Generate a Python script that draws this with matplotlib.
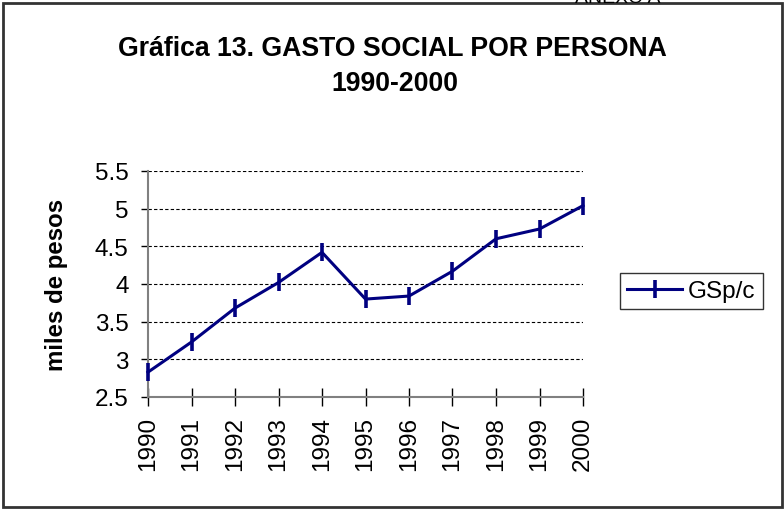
import matplotlib
matplotlib.use("Agg")
import matplotlib.pyplot as plt
from matplotlib.patches import Rectangle

years = ["1990", "1991", "1992", "1993", "1994", "1995", "1996", "1997", "1998", "1999", "2000"]
gsp = [2.83, 3.23, 3.68, 4.02, 4.42, 3.80, 3.84, 4.17, 4.60, 4.73, 5.04]
yticks = [2.5, 3, 3.5, 4, 4.5, 5, 5.5]
ytick_labels = ["2.5", "3", "3.5", "4", "4.5", "5", "5.5"]

plt.rcParams['font.family'] = ['Liberation Sans', 'DejaVu Sans']

fig = plt.figure(figsize=(7.84, 5.10), dpi=100)
ax = fig.add_axes([148/784, 1-398/510, (583-148)/784, (398-172)/510])

x = list(range(len(years)))
ax.plot(x, gsp, color='#000080', linewidth=2.2, marker='|', markersize=13,
        markeredgewidth=2.6, label='GSp/c', clip_on=False, zorder=5)

ax.set_xlim(0, len(years) - 1)
ax.set_ylim(2.5, 5.5)
ax.set_yticks(yticks)
ax.set_yticklabels(ytick_labels, fontsize=17.5)
ax.set_xticks(x)
ax.set_xticklabels(years, rotation=90, fontsize=17.5)
ax.tick_params(axis='x', direction='inout', length=13, width=1, color='black', pad=7)
ax.tick_params(axis='y', direction='out', length=5, width=1, color='black', pad=9)

ax.grid(axis='y', color='black', linestyle=(0, (3, 2)), linewidth=0.8)
ax.set_axisbelow(True)
for s in ['top', 'right']:
    ax.spines[s].set_visible(False)
for s in ['left', 'bottom']:
    ax.spines[s].set_color('#808080')
    ax.spines[s].set_linewidth(1.5)

ax.set_ylabel('miles de pesos', fontsize=17.3, fontweight='bold', va='center')
ax.yaxis.set_label_coords((57-148)/435, 0.5)

fig.text(392/784, 1-56/510, 'Gráfica 13. GASTO SOCIAL POR PERSONA', ha='center', va='baseline',
         fontsize=19.2, fontweight='bold')
fig.text(394.5/784, 1-91/510, '1990-2000', ha='center', va='baseline',
         fontsize=19.2, fontweight='bold')

fig.text(575/784, 1-3/510, 'ANEXO A', ha='left', va='baseline', fontsize=14)

leg = fig.legend(loc='center', bbox_to_anchor=((619+764)/2/784, 1-(273+311)/2/510),
                 fontsize=17.5, frameon=True, fancybox=False, edgecolor='black',
                 handlelength=2.25, handletextpad=0.25, borderpad=0.3, borderaxespad=0)
leg.get_frame().set_linewidth(1.0)

fig.patches.append(Rectangle((3/784, 2/510), (782-3)/784, (506-2)/510, transform=fig.transFigure,
                             fill=False, edgecolor='#333333', linewidth=2))

fig.savefig('out.png', dpi=100)
